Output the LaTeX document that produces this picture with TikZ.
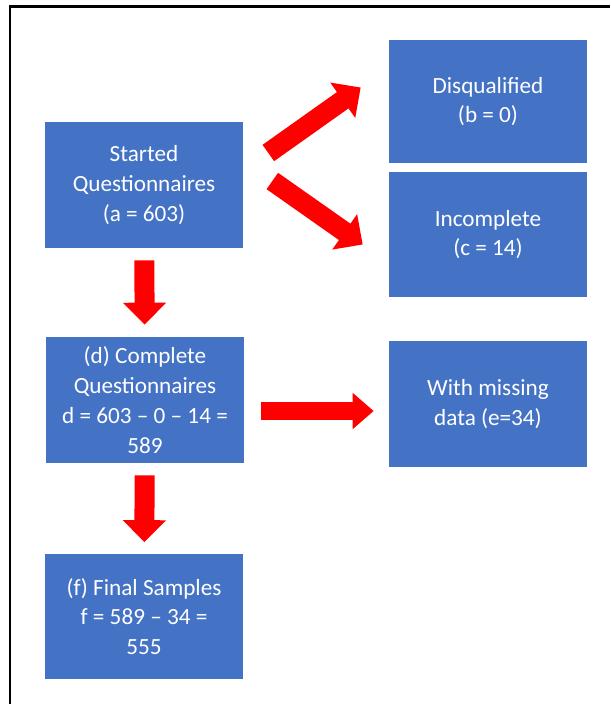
\documentclass[tikz,border=0pt]{standalone}
\usepackage{fontspec}
\setmainfont{Carlito}
\usetikzlibrary{arrows.meta, positioning}
\definecolor{boxblue}{RGB}{68,114,196}
\tikzset{
  stage/.style={rectangle, fill=boxblue, text=white, align=center, inner sep=0pt,
    minimum width=3.96cm, minimum height=2.52cm, font=\fontsize{13.2}{17}\selectfont},
  bigarrow/.style={draw=red, line width=0.4cm,
    -{Triangle[length=0.44cm, width=0.84cm, fill=red]}},
}
\begin{document}
\begin{tikzpicture}[x=0.02cm, y=-0.02cm]
\useasboundingbox (0,0) rectangle (610,704);
% frame
\draw[line width=0.06cm] (9,6) -- (610,6);
\draw[line width=0.06cm] (10,6) -- (10,704);

\node[stage] at (144,185) (started) {Started\\Questionnaires\\(a = 603)};
\node[stage, minimum height=2.46cm] at (488,101.5) (disq) {Disqualified\\(b = 0)};
\node[stage, minimum height=2.5cm] at (488,234.5) (incomp) {Incomplete\\(c = 14)};
\node[stage] at (145,400) (complete) {(d) Complete\\Questionnaires\\d = 603 – 0 – 14 =\\589};
\node[stage] at (488,404) (missing) {With missing\\data (e=34)};
\node[stage] at (144,616.5) (final) {(f) Final Samples\\f = 589 – 34 =\\555};

\draw[bigarrow, shorten <=0.24cm, shorten >=0.24cm] (started) -- (complete);
\draw[bigarrow, shorten <=0.24cm, shorten >=0.22cm] (complete) -- (final);
\draw[bigarrow, line width=0.36cm, -{Triangle[length=0.42cm, width=0.7cm, fill=red]}]
  ([shift={(17,11)}]complete.east) -- ([shift={(-15,11)}]complete.east -| missing.west);
\draw[bigarrow] ([shift={(25,-32)}]started.east) -- ([shift={(-28,-14)}]disq.west);
\draw[bigarrow] ([shift={(29,-4)}]started.east) -- ([shift={(-26,10)}]incomp.west);

\end{tikzpicture}
\end{document}
